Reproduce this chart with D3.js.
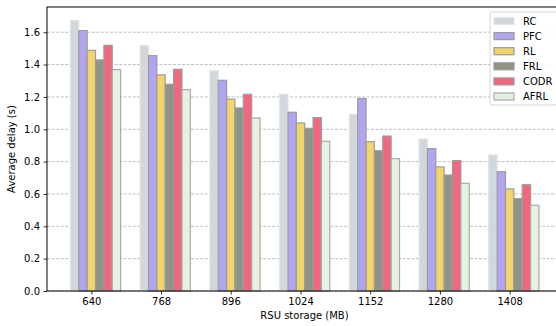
<!DOCTYPE html>
<html><head><meta charset="utf-8">
<script src="https://cdn.jsdelivr.net/npm/d3@7"></script>
<style>body{margin:0;background:#fff}svg{display:block}text{font-family:"DejaVu Sans",sans-serif;fill:#000}</style>
</head><body><div id="chart"></div>
<script>
const categories = ["640","768","896","1024","1152","1280","1408"];
const seriesNames = ["RC","PFC","RL","FRL","CODR","AFRL"];
const RC   = [1.672,1.519,1.362,1.216,1.093,0.940,0.841];
const PFC  = [1.610,1.455,1.303,1.105,1.190,0.880,0.738];
const RLv  = [1.488,1.336,1.186,1.039,0.923,0.767,0.631];
const FRL  = [1.429,1.278,1.132,1.006,0.868,0.717,0.571];
const CODR = [1.519,1.371,1.216,1.072,0.958,0.806,0.657];
const AFRL = [1.369,1.245,1.070,0.926,0.818,0.666,0.530];
const yTicks = [0,0.2,0.4,0.6,0.8,1.0,1.2,1.4,1.6];
const seriesValues = [RC,PFC,RLv,FRL,CODR,AFRL];
const fills = ["#d2d7db","#b1a5f2","#f2d46b","#8f9487","#f0677e","#e6f1e2"];
const edges = ["#e2e5e8","#9c9c9c","#9c9c9c","#9c9c9c","#9c9c9c","#a8aaa8"];

const W=556,H=326;
const m={left:47,top:7,bottom:291};
const svg=d3.select("#chart").append("svg").attr("width",W).attr("height",H);
const barW=0.12;
const x=d3.scaleLinear().domain([-0.636,6.756]).range([47,562.4]);
const y=d3.scaleLinear().domain([0,1.756]).range([m.bottom,m.top]);

// grid
svg.append("g").selectAll("line").data(yTicks).join("line")
  .attr("x1",47).attr("x2",556).attr("y1",d=>y(d)).attr("y2",d=>y(d))
  .attr("stroke","#b0b0b0").attr("stroke-width",0.8).attr("stroke-dasharray","3,1.5");

// bars
seriesValues.forEach((vals,s)=>{
  svg.append("g").selectAll("rect").data(vals).join("rect")
    .attr("x",(d,i)=>x(i+(s-2)*barW-barW/2))
    .attr("width",x(barW)-x(0))
    .attr("y",d=>y(d)).attr("height",d=>y(0)-y(d))
    .attr("fill",fills[s]).attr("stroke",edges[s]).attr("stroke-width",1.2);
});

// axes
const xAxis=d3.axisBottom(x).tickValues(d3.range(categories.length)).tickFormat(i=>categories[i]).tickSize(3.5).tickPadding(3.5);
const gx=svg.append("g").attr("transform",`translate(0,${m.bottom})`).call(xAxis);
gx.select(".domain").remove();
gx.selectAll("text").attr("font-size",10).style("font-family","DejaVu Sans");
gx.selectAll("line").attr("stroke","#000").attr("stroke-width",0.8);
const yAxis=d3.axisLeft(y).tickValues(yTicks).tickFormat(d3.format(".1f")).tickSize(3.5).tickPadding(3.5);
const gy=svg.append("g").attr("transform",`translate(47,0)`).call(yAxis);
gy.select(".domain").remove();
gy.selectAll("text").attr("font-size",10).style("font-family","DejaVu Sans");
gy.selectAll("line").attr("stroke","#000").attr("stroke-width",0.8);

// spines
svg.append("rect").attr("x",47).attr("y",m.top).attr("width",562.4-47).attr("height",m.bottom-m.top)
  .attr("fill","none").attr("stroke","#000").attr("stroke-width",1);

// labels
svg.append("text").attr("x",304.5).attr("y",319).attr("text-anchor","middle").attr("font-size",10).text("RSU storage (MB)");
svg.append("text").attr("transform",`translate(15,149) rotate(-90)`).attr("text-anchor","middle").attr("font-size",10).text("Average delay (s)");

// legend
const lg=svg.append("g");
lg.append("rect").attr("x",490).attr("y",12).attr("width",67).attr("height",93).attr("rx",2)
  .attr("fill","#fff").attr("fill-opacity",0.85).attr("stroke","#cccccc").attr("stroke-width",0.8);
seriesNames.forEach((n,s)=>{
  const cy=21+s*15.1;
  lg.append("rect").attr("x",494).attr("y",cy-3.5).attr("width",20).attr("height",7)
    .attr("fill",fills[s]).attr("stroke",edges[s]).attr("stroke-width",1.2);
  lg.append("text").attr("x",523).attr("y",cy+3.6).attr("font-size",10).text(n);
});
</script></body></html>
